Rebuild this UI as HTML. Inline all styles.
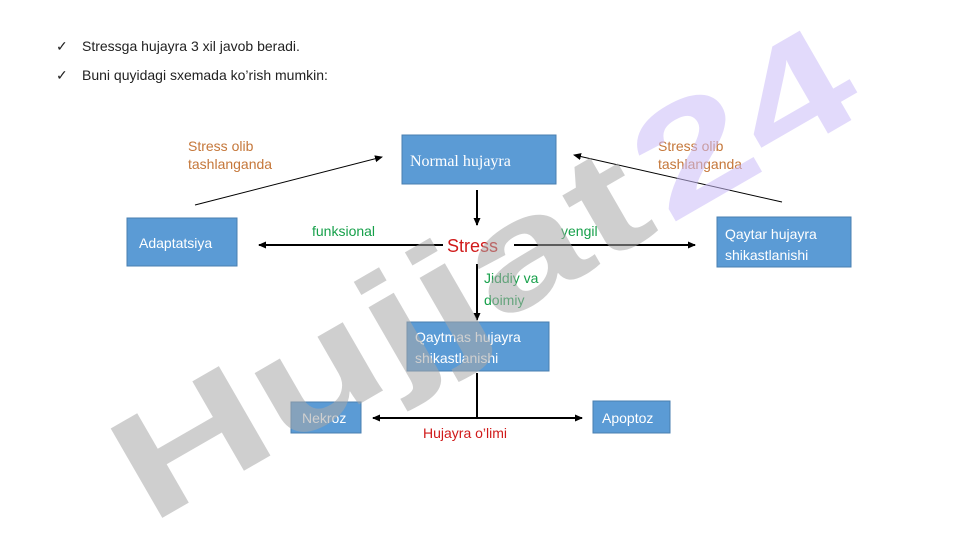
<!DOCTYPE html>
<html><head><meta charset="utf-8"><style>
html,body{margin:0;padding:0;background:#fff;width:960px;height:540px;overflow:hidden;}
svg{display:block;}
</style></head><body>
<svg width="960" height="540" viewBox="0 0 960 540" xmlns="http://www.w3.org/2000/svg" font-family="Liberation Sans, sans-serif" overflow="hidden">
<defs>
<marker id="a" markerWidth="8" markerHeight="8" refX="7" refY="4" orient="auto" markerUnits="userSpaceOnUse"><path d="M0,0.5 L8,4 L0,7.5 Z" fill="#000"/></marker>
</defs>
<g font-size="14" fill="#222">
<text x="56" y="51">✓</text><text x="82" y="51">Stressga hujayra 3 xil javob beradi.</text>
<text x="56" y="80">✓</text><text x="82" y="80">Buni quyidagi sxemada ko’rish mumkin:</text>
</g>
<g fill="#5b9bd5" stroke="#4a7fb0" stroke-width="1">
<rect x="402" y="135" width="154" height="49"/>
<rect x="127" y="218" width="110" height="48"/>
<rect x="717" y="217" width="134" height="50"/>
<rect x="407" y="322" width="142" height="49"/>
<rect x="291" y="402" width="70" height="31"/>
<rect x="593" y="401" width="77" height="32"/>
</g>
<g fill="#fff" font-size="14">
<text x="410" y="166" font-family="Liberation Serif, serif" font-size="16">Normal hujayra</text>
<text x="139" y="248">Adaptatsiya</text>
<text x="725" y="239">Qaytar hujayra</text>
<text x="725" y="260">shikastlanishi</text>
<text x="415" y="342">Qaytmas hujayra</text>
<text x="415" y="363">shikastlanishi</text>
<text x="302" y="423">Nekroz</text>
<text x="602" y="423">Apoptoz</text>
</g>
<g stroke="#000" fill="none">
<line x1="477" y1="190" x2="477" y2="225" stroke-width="2" marker-end="url(#a)"/>
<line x1="443" y1="245" x2="259" y2="245" stroke-width="2" marker-end="url(#a)"/>
<line x1="514" y1="245" x2="695" y2="245" stroke-width="2" marker-end="url(#a)"/>
<line x1="477" y1="264" x2="477" y2="320" stroke-width="2" marker-end="url(#a)"/>
<line x1="477" y1="373" x2="477" y2="418" stroke-width="2"/>
<line x1="477" y1="418" x2="373" y2="418" stroke-width="2" marker-end="url(#a)"/>
<line x1="477" y1="418" x2="582" y2="418" stroke-width="2" marker-end="url(#a)"/>
<line x1="195" y1="205" x2="382" y2="157" stroke-width="1" marker-end="url(#a)"/>
<line x1="782" y1="202" x2="574" y2="155" stroke-width="1" marker-end="url(#a)"/>
</g>
<g font-size="14">
<text x="188" y="151" fill="#c5773a">Stress olib</text>
<text x="188" y="169" fill="#c5773a">tashlanganda</text>
<text x="658" y="151" fill="#c5773a">Stress olib</text>
<text x="658" y="169" fill="#c5773a">tashlanganda</text>
<text x="312" y="236" fill="#16a04a">funksional</text>
<text x="561" y="236" fill="#16a04a">yengil</text>
<text x="484" y="283" fill="#16a04a">Jiddiy va</text>
<text x="484" y="305" fill="#16a04a">doimiy</text>
<text x="447" y="252" fill="#d01a1a" font-size="18">Stress</text>
<text x="423" y="438" fill="#d01a1a">Hujayra o’limi</text>
</g>
<g transform="translate(150,525) rotate(-30)" font-weight="bold" font-size="150" fill-opacity="0.55">
<text x="0" y="0" fill="#a8a8a8" textLength="590" lengthAdjust="spacingAndGlyphs">Hujjat</text>
<text x="600" y="0" fill="#cbbcf8" textLength="230" lengthAdjust="spacingAndGlyphs">24</text>
</g>
</svg>
</body></html>
